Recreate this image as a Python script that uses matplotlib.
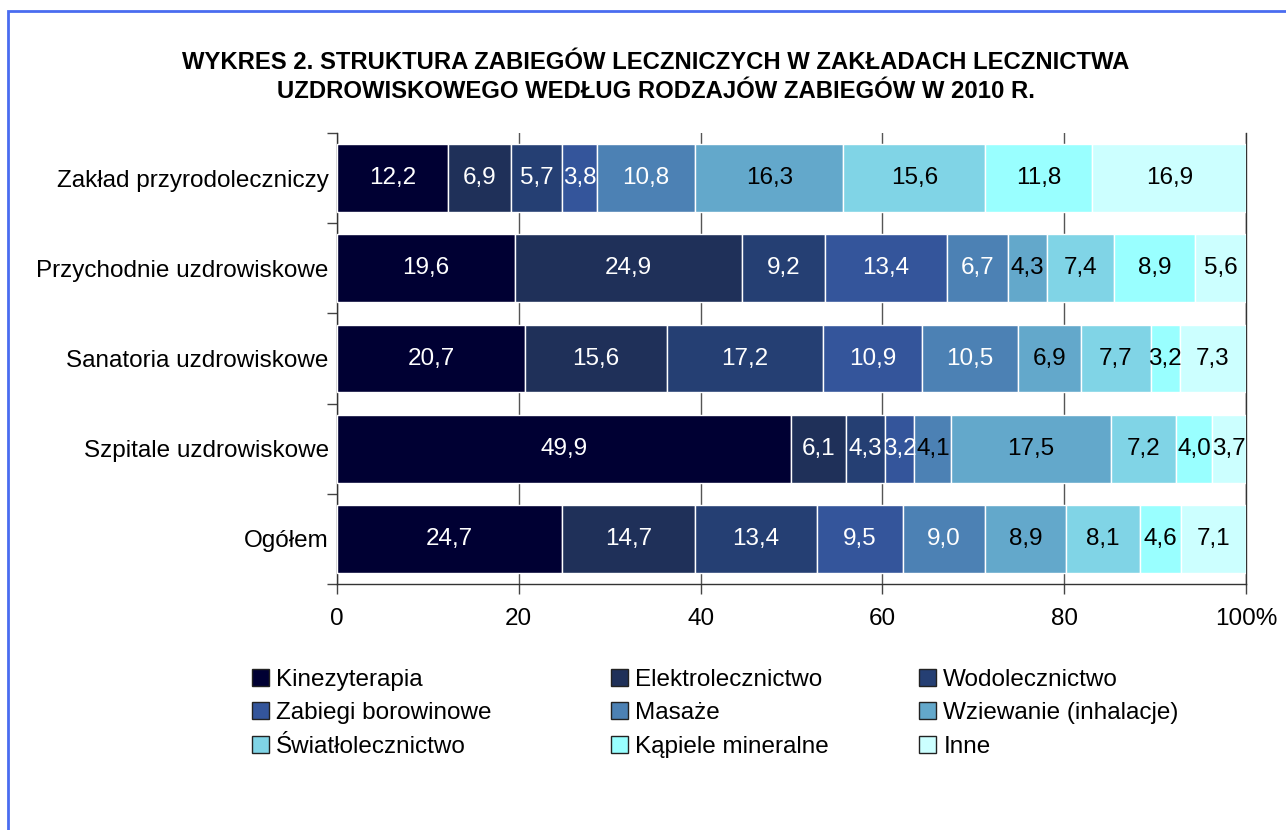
import matplotlib.pyplot as plt
from matplotlib.patches import Rectangle, Patch

plt.rcParams['font.family'] = ['Liberation Sans', 'DejaVu Sans']

categories = ["Zakład przyrodoleczniczy", "Przychodnie uzdrowiskowe",
              "Sanatoria uzdrowiskowe", "Szpitale uzdrowiskowe", "Ogółem"]
series = ["Kinezyterapia", "Elektrolecznictwo", "Wodolecznictwo",
          "Zabiegi borowinowe", "Masaże", "Wziewanie (inhalacje)",
          "Światłolecznictwo", "Kąpiele mineralne", "Inne"]
# values per category, in series order
zaklad = [12.2, 6.9, 5.7, 3.8, 10.8, 16.3, 15.6, 11.8, 16.9]
przychodnie = [19.6, 24.9, 9.2, 13.4, 6.7, 4.3, 7.4, 8.9, 5.6]
sanatoria = [20.7, 15.6, 17.2, 10.9, 10.5, 6.9, 7.7, 3.2, 7.3]
szpitale = [49.9, 6.1, 4.3, 3.2, 4.1, 17.5, 7.2, 4.0, 3.7]
ogolem = [24.7, 14.7, 13.4, 9.5, 9.0, 8.9, 8.1, 4.6, 7.1]
rows = [zaklad, przychodnie, sanatoria, szpitale, ogolem]

colors = ["#000033", "#1f3059", "#253f73", "#34559b", "#4c81b4",
          "#63a8cb", "#80d4e6", "#99ffff", "#ccffff"]
xticks = [0, 20, 40, 60, 80, 100]
xticklabels = ["0", "20", "40", "60", "80", "100%"]

fs = 17.5

fig = plt.figure(figsize=(12.86, 8.30), dpi=100)
ax = fig.add_axes([337/1286, 246/830, 909/1286, 451/830])

for j, name in enumerate(series):
    for i, row in enumerate(rows):
        left = sum(row[:j])
        v = row[j]
        ax.barh(i, v, left=left, height=0.75, color=colors[j],
                edgecolor="white", linewidth=1, zorder=3)
        tc = "white" if j < 5 else "black"
        if i == 3 and j == 4:
            tc = "black"
        ax.text(left + v / 2, i, f"{v:.1f}".replace(".", ","), ha="center",
                va="center", color=tc, fontsize=fs, zorder=4)

ax.set_xlim(0, 100)
ax.set_ylim(4.5, -0.5)
ax.set_xticks(xticks)
ax.set_xticklabels(xticklabels, fontsize=fs)
ax.set_yticks(range(len(categories)))
ax.set_yticklabels(categories, fontsize=fs)
ax.set_yticks([-0.5, 0.5, 1.5, 2.5, 3.5, 4.5], minor=True)
ax.tick_params(axis="y", which="major", length=0, pad=6)
ax.tick_params(axis="y", which="minor", length=7, width=1, color="#444444")
ax.tick_params(axis="x", length=7, width=1, color="#444444", pad=10)
ax.xaxis.grid(True, color="#555555", linewidth=1, zorder=0)
ax.set_axisbelow(True)
ax.spines["top"].set_visible(False)
for s in ["left", "bottom", "right"]:
    ax.spines[s].set_color("#333333")
    ax.spines[s].set_linewidth(1)

fig.text(656/1286, 1 - 77/830,
         "WYKRES 2. STRUKTURA ZABIEGÓW LECZNICZYCH W ZAKŁADACH LECZNICTWA\n"
         "UZDROWISKOWEGO WEDŁUG RODZAJÓW ZABIEGÓW W 2010 R.",
         ha="center", va="center", fontsize=17.2, fontweight="bold",
         linespacing=1.3)

# legend, three columns placed like the original
col_x = [252, 611, 919]
for c in range(3):
    handles = [Patch(facecolor=colors[c + 3 * r], edgecolor="#222222",
                     linewidth=1, label=series[c + 3 * r]) for r in range(3)]
    fig.legend(handles=handles, loc="upper left",
               bbox_to_anchor=(col_x[c]/1286, 1 - 669/830), frameon=False,
               fontsize=fs, handlelength=0.7, handleheight=0.7,
               handletextpad=0.3, labelspacing=0.47, borderpad=0,
               borderaxespad=0)

fig.patches.append(Rectangle((8/1286, -0.1), 2, 1 - 11/830 + 0.1,
                             transform=fig.transFigure, fill=False,
                             edgecolor="#4a6cf0", linewidth=2))

fig.savefig("out.png", dpi=100)
